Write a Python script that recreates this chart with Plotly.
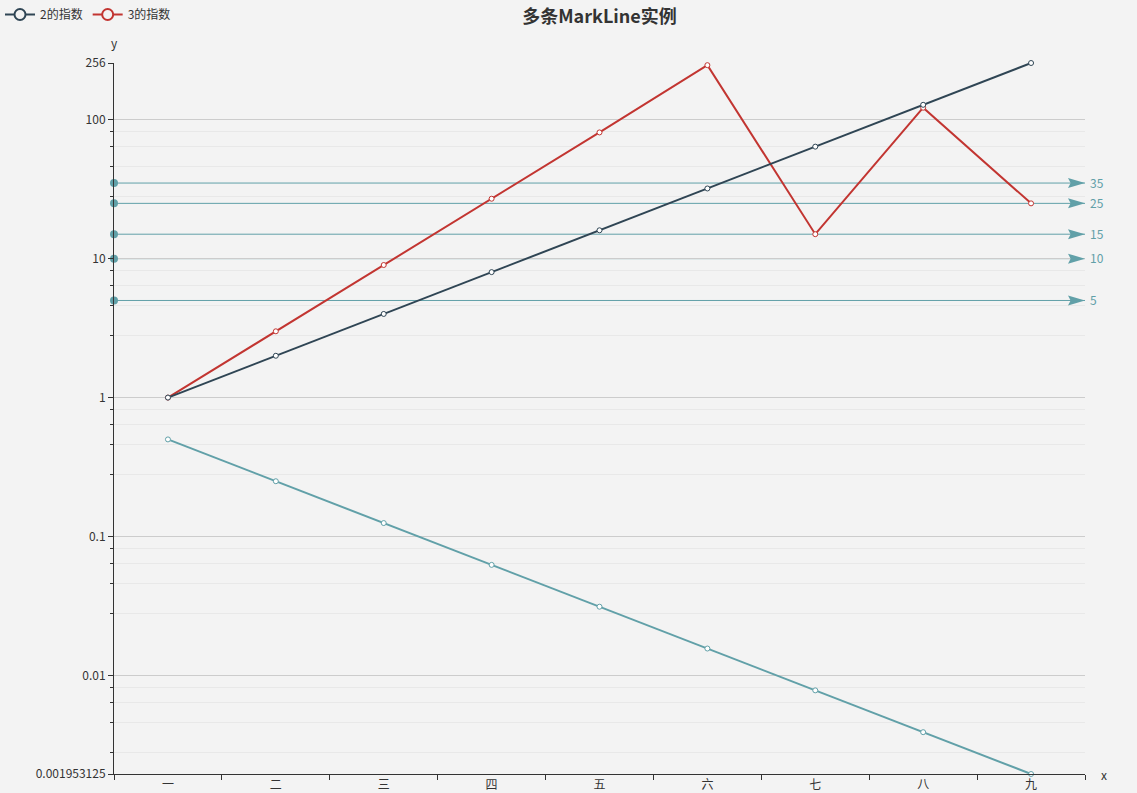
import numpy as np
import plotly.graph_objects as go

# ---------------- data ----------------
categories = ['一', '二', '三', '四', '五', '六', '七', '八', '九']
name_pow2 = '2的指数'
name_pow3 = '3的指数'
name_half = '1/2的指数'
pow2 = [1, 2, 4, 8, 16, 32, 64, 128, 256]
pow3 = [1, 3, 9, 27, 81, 247, 15, 122, 25]
half = [0.5, 0.25, 0.125, 0.0625, 0.03125, 0.015625, 0.0078125, 0.00390625, 0.001953125]
markline_values = [5, 10, 15, 25, 35]
ytick_vals = [0.001953125, 0.01, 0.1, 1, 10, 100, 256]
ytick_text = ['0.001953125', '0.01', '0.1', '1', '10', '100', '256']
title_text = '多条MarkLine实例'

# ---------------- style ----------------
C_DARK = '#2f4554'
C_RED = '#c23531'
C_TEAL = '#61a0a8'
BG = '#f3f3f3'
TXT = '#333333'
FONT = 'Noto Sans CJK SC'

W, H = 1137, 793
ML, MR, MT, MB = 114, 52, 63, 19
PW, PH = W - ML - MR, H - MT - MB

ymin, ymax = min(half), max(pow2)

# minor ticks (ECharts style: linear split of each decade into 5)
minor_vals = []
for e in range(-3, 3):
    b = 10.0 ** e
    for k in range(1, 5):
        v = b * (1 + 1.8 * k)
        if ymin < v < ymax:
            minor_vals.append(v)

fig = go.Figure()


def add_series(name, values, color):
    fig.add_trace(go.Scatter(
        x=categories, y=values, name=name, mode='lines+markers',
        line=dict(color=color, width=2),
        marker=dict(symbol='circle', size=5, color='#ffffff',
                    line=dict(color=color, width=1)),
        showlegend=False, legendgroup=name, cliponaxis=False,
    ))


def add_legend_entry(name, color, rank):
    fig.add_trace(go.Scatter(
        x=[None], y=[None], name=name, mode='lines+markers',
        line=dict(color=color, width=2),
        marker=dict(symbol='circle', size=11, color=BG,
                    line=dict(color=color, width=2)),
        showlegend=True, legendgroup=name, legendrank=rank,
    ))


# markline start dots on an overlay linear x axis (0..1 spans the plot)
fig.add_trace(go.Scatter(
    x=[0] * len(markline_values), y=markline_values, xaxis='x2', yaxis='y',
    mode='markers', marker=dict(symbol='circle', size=8, color=C_TEAL),
    showlegend=False, cliponaxis=False, hoverinfo='skip'))

add_series(name_half, half, C_TEAL)
add_series(name_pow3, pow3, C_RED)
add_series(name_pow2, pow2, C_DARK)
add_legend_entry(name_pow2, C_DARK, 1)
add_legend_entry(name_pow3, C_RED, 2)

shapes = []
annotations = []
for v in markline_values:
    shapes.append(dict(type='line', xref='paper', yref='y', x0=0, x1=1, y0=v, y1=v,
                       line=dict(color=C_TEAL, width=1), layer='below'))
    shapes.append(dict(type='path', xref='paper', yref='y',
                       xsizemode='pixel', ysizemode='pixel', xanchor=1, yanchor=v,
                       path='M0,0 L-17,5 L-14.4,0 L-17,-5 Z',
                       fillcolor=C_TEAL, line=dict(width=0), layer='above'))
    annotations.append(dict(xref='paper', yref='y', x=1, y=np.log10(v),
                            xanchor='left', yanchor='middle', xshift=3, yshift=1,
                            text=str(v), showarrow=False,
                            font=dict(family=FONT, size=12, color=C_TEAL)))

annotations.append(dict(xref='paper', yref='paper', x=0, y=1, xanchor='center',
                        yanchor='middle', yshift=21, text='y', showarrow=False,
                        font=dict(family=FONT, size=12, color=TXT)))
annotations.append(dict(xref='paper', yref='paper', x=1, y=0, xanchor='left',
                        yanchor='middle', xshift=14, text='x', showarrow=False,
                        font=dict(family=FONT, size=12, color=TXT)))

fig.update_layout(
    width=W, height=H, autosize=False,
    margin=dict(l=ML, r=MR, t=MT, b=MB, pad=0, autoexpand=False),
    paper_bgcolor=BG, plot_bgcolor=BG,
    font=dict(family=FONT, size=12, color=TXT),
    title=dict(text='<b>' + title_text + '</b>', x=0.5, xref='paper', xanchor='center',
               y=1 - 17 / H, yref='container', yanchor='middle',
               font=dict(family=FONT, size=18, color=TXT)),
    showlegend=True,
    legend=dict(orientation='h', xref='container', yref='container',
                x=0, xanchor='left', y=1, yanchor='top', bgcolor='rgba(0,0,0,0)',
                font=dict(family=FONT, size=12, color=TXT),
                itemwidth=30, tracegroupgap=0),
    shapes=shapes, annotations=annotations,
    xaxis=dict(type='category', range=[-0.5, len(categories) - 0.5], automargin=False,
               tickson='boundaries', ticks='outside', ticklen=5, tickcolor=TXT,
               showline=True, linecolor=TXT, linewidth=1, showgrid=False,
               zeroline=False, tickfont=dict(family=FONT, size=12, color=TXT)),
    xaxis2=dict(overlaying='x', range=[0, 1], visible=False, automargin=False),
    yaxis=dict(type='log', range=[np.log10(ymin), np.log10(ymax)], automargin=False,
               tickmode='array', tickvals=ytick_vals, ticktext=ytick_text,
               ticks='outside', ticklen=5, tickcolor=TXT,
               showline=True, linecolor=TXT, linewidth=1,
               showgrid=True, gridcolor='#cccccc', gridwidth=1, zeroline=False,
               tickfont=dict(family=FONT, size=12, color=TXT),
               minor=dict(tickmode='array', tickvals=minor_vals, ticks='outside',
                          ticklen=3, tickcolor=TXT, showgrid=True,
                          gridcolor='#e8e8e8', gridwidth=1)),
)

fig.write_html('out.html', config={'displayModeBar': False},
               post_script="document.body.style.margin='0';")
